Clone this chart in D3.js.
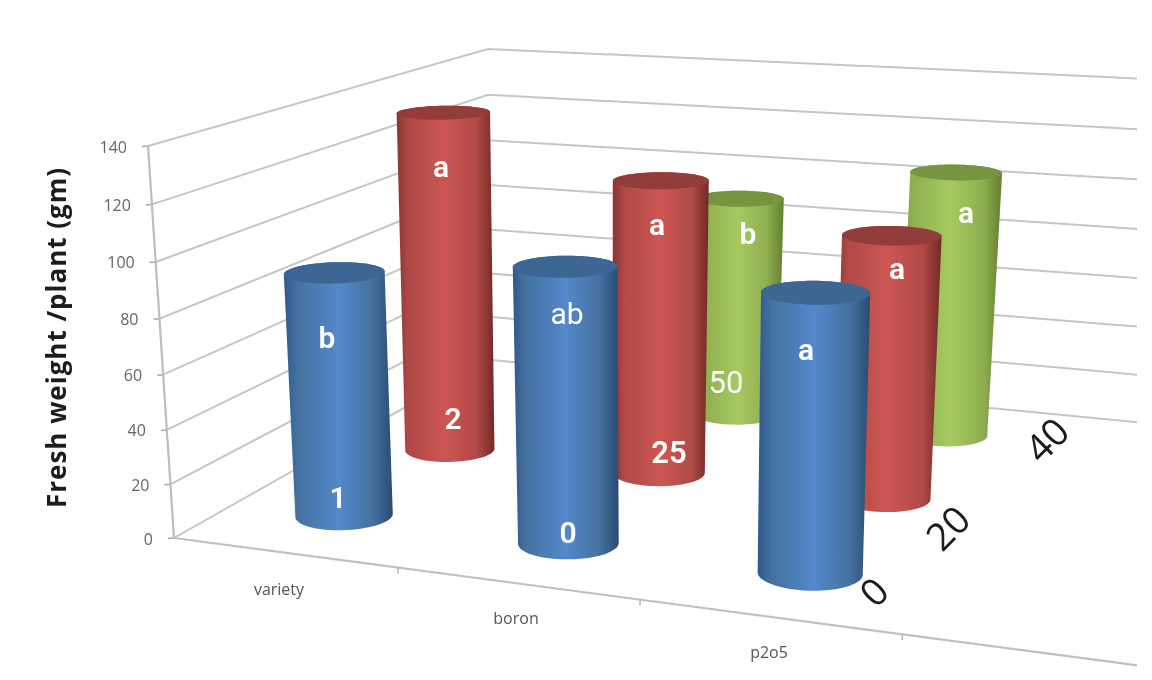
<!DOCTYPE html>
<html><head><meta charset="utf-8">
<script src="https://d3js.org/d3.v7.min.js"></script>
<style>html,body{margin:0;padding:0;background:#fff}svg{display:block}</style>
</head><body><div id="c"></div>
<script>
const categories = ["variety","boron","p2o5"];
const depthRows = ["front","middle","back"];
const yTicks = [0,20,40,60,80,100,120,140];
const blueValues  = [90.3, 99.2, 97.2];
const redValues   = [134, 113.3, 98.8];
const greenValues = [null, 90.5, 106.6];
const depthLabels = ["0","20","40"];
const yTitle = "Fresh weight /plant (gm)";
// hand-placed annotations on the bars: text only
const annotationTexts = ["b","1","a","2","ab","0","a","25","b","50","a","a","a"];

const W=1152,H=680;
const svg=d3.select("#c").append("svg").attr("width",W).attr("height",H);
const defs=svg.append("defs");
defs.append("filter").attr("id","soft").attr("x","-5%").attr("y","-5%").attr("width","110%").attr("height","110%")
  .append("feGaussianBlur").attr("stdDeviation",0.75);
defs.append("clipPath").attr("id","crop").append("rect").attr("width",1137).attr("height",680);

const sScale=d3.scaleLinear().domain([0,140]).range([0,1]);
const uScale=d3.scaleBand().domain(categories).range([0,3]);
const vScale=d3.scaleBand().domain(depthRows).range([0,3]);
function proj(u,v,t){
  const s=sScale(t);
  const w=1-0.0372*u+0.092*v-0.048*s;
  return [(174+209.2*u+150*v-33.1*s+2.8*v*s)/w,(538+8.5*u-26.3*v-399*s)/w];
}
const uEnd=4.6;
const root=svg.append("g").attr("filter","url(#soft)");
const plot=root.append("g").attr("clip-path","url(#crop)");
const line=d3.line();
const gridColor="#c6c6c6";

yTicks.forEach(t=>{
  plot.append("path").attr("d",line([proj(0,0,t),proj(0,3,t),proj(uEnd,3,t)]))
    .attr("fill","none").attr("stroke",gridColor).attr("stroke-width",2);
  const p=proj(0,0,t);
  plot.append("path").attr("d",line([[p[0]-6,p[1]+0.5],p])).attr("stroke","#a8a8a8").attr("stroke-width",1.5);
});
plot.append("path").attr("d",line([proj(0,0,0),proj(0,0,140)])).attr("stroke","#bdbdbd").attr("stroke-width",2.2);
plot.append("path").attr("d",line([proj(0,0,0),proj(uEnd,0,0)])).attr("stroke","#c0c0c0").attr("stroke-width",2.2);
[1,2,3].forEach(u=>{
  const p=proj(u,0,0);
  plot.append("path").attr("d",line([p,[p[0],p[1]+6]])).attr("stroke","#b0b0b0").attr("stroke-width",1.4);
});

const palettes=[
 {edgeL:"#30588a",dark:"#45719f",bright:"#5389cb",edgeR:"#2a4b72",top:"#3d6695"},
 {edgeL:"#8a3331",dark:"#b04a47",bright:"#cd5653",edgeR:"#742826",top:"#923d3b"},
 {edgeL:"#6f8e38",dark:"#8fae50",bright:"#a6c95f",edgeR:"#62802f",top:"#779540"}
];
const series=[
 {row:"front",values:blueValues,pal:palettes[0]},
 {row:"middle",values:redValues,pal:palettes[1]},
 {row:"back",values:greenValues,pal:palettes[2]}
];
const ru=0.2,rv=0.195;
const theta=d3.range(0,2*Math.PI,Math.PI/36);
const bandU=uScale.bandwidth()/2,bandV=vScale.bandwidth()/2;
const marks=root.append("g");
let gid=0;
series.slice().reverse().forEach(sr=>{
  categories.forEach((cat,i)=>{
    const val=sr.values[i];
    if(val==null) return;
    const cu=uScale(cat)+bandU,cv=vScale(sr.row)+bandV;
    const ring=t=>theta.map(a=>proj(cu+ru*Math.cos(a),cv+rv*Math.sin(a),t));
    const topRing=ring(val);
    const hull=d3.polygonHull(ring(0).concat(topRing));
    const xs=hull.map(d=>d[0]);
    const id="g"+(gid++);
    const g=defs.append("linearGradient").attr("id",id).attr("gradientUnits","userSpaceOnUse")
      .attr("x1",d3.min(xs)).attr("x2",d3.max(xs)).attr("y1",0).attr("y2",0);
    [[0,sr.pal.edgeL],[0.12,sr.pal.dark],[0.5,sr.pal.bright],[0.82,sr.pal.dark],[1,sr.pal.edgeR]]
      .forEach(([o,c])=>g.append("stop").attr("offset",o).attr("stop-color",c));
    marks.append("path").attr("d",line(hull)+"Z").attr("fill",`url(#${id})`);
    marks.append("path").attr("d",line(topRing)+"Z").attr("fill",sr.pal.top);
  });
});

// text boxes placed on top of the bars
const annX=[327,338,441,453,567,568,657,669,748,726,806,897,966];
const annY=[337,497,166,418,313,532,224,452,233,382,349,268,212];
annotationTexts.forEach((t,i)=>{
  const plain=t==="ab"||t==="50";
  root.append("text").attr("x",annX[i]).attr("y",annY[i]).attr("text-anchor","middle")
    .attr("dominant-baseline","central").attr("font-family","Roboto, sans-serif")
    .attr("font-size",t.length>1&&t!=="ab"?31:30).attr("font-weight",plain?400:600)
    .attr("fill","#fff").text(t);
});

const catX=[279,516,769],catY=[589,618,652];
categories.forEach((c,i)=>root.append("text").attr("x",catX[i]).attr("y",catY[i])
  .attr("text-anchor","middle").attr("dominant-baseline","central")
  .attr("font-family","'Open Sans', sans-serif").attr("font-size",16).attr("fill","#555").text(c));

yTicks.forEach(t=>{
  const p=proj(0,0,t);
  root.append("text").attr("x",p[0]-21).attr("y",p[1]+0.5).attr("text-anchor","end")
    .attr("dominant-baseline","central").attr("font-family","'Open Sans', sans-serif")
    .attr("font-size",16).attr("fill","#666").text(t);
});

const dX=[873,947,1046],dY=[591,527,439];
depthLabels.forEach((d,i)=>root.append("text").attr("transform",`translate(${dX[i]},${dY[i]}) rotate(-45)`)
  .attr("text-anchor","middle").attr("dominant-baseline","central")
  .attr("font-family","'Open Sans', sans-serif").attr("font-size",38).attr("fill","#1a1a1a").text(d));

root.append("text").attr("transform","translate(56,338) rotate(-90)").attr("text-anchor","middle")
  .attr("dominant-baseline","central").attr("font-family","'Open Sans', sans-serif")
  .attr("font-size",26).attr("font-weight",700).attr("fill","#1c1c1c")
  .attr("textLength",340).attr("lengthAdjust","spacing").text(yTitle);
</script></body></html>
